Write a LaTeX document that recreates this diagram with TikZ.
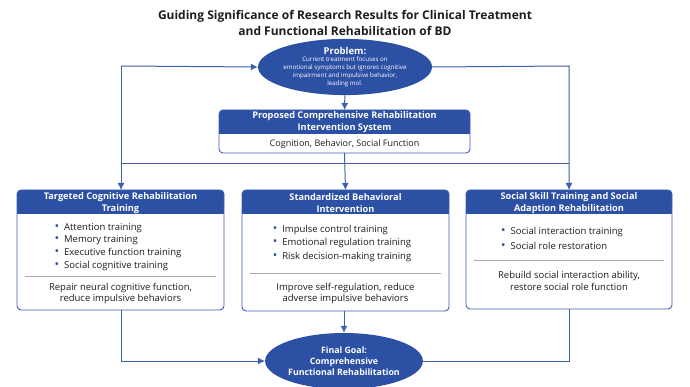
\documentclass[tikz,border=0pt]{standalone}
\usepackage{fontspec}
\setmainfont{Open Sans}
\usetikzlibrary{arrows.meta,calc,shapes.geometric}
\definecolor{bdblue}{RGB}{44,80,164}
\definecolor{lineblue}{RGB}{60,96,178}
\definecolor{txtgray}{RGB}{30,30,30}
\definecolor{divgray}{RGB}{170,170,170}
\newcommand\bul{{\color{bdblue}\fontsize{12}{0}\selectfont\textbullet}\hspace{5pt}}
\newcommand\panel[6]{%
  \fill[bdblue,rounded corners=4pt] (#2,#3) rectangle (#4,#6);
  \fill[bdblue] (#2,{(#3+#6)/2}) rectangle (#4,#6);
  \node[panelbox, minimum width={(#4-#2)*1pt}, minimum height={(#5-#3)*1pt}] (#1) at ({(#2+#4)/2},{(#3+#5)/2}) {};
}
\begin{document}
\begin{tikzpicture}[x=1pt,y=-1pt,
  panelbox/.style={draw=lineblue, line width=0.9pt, rounded corners=4pt, inner sep=0pt, outer sep=0pt},
  hdrtext/.style={text=white, font=\fontsize{9.2}{12}\selectfont\bfseries, align=center, inner sep=0pt},
  bodytext/.style={text=txtgray, font=\fontsize{9.5}{12.7}\selectfont, align=left, inner sep=0pt},
  concl/.style={text=txtgray, font=\fontsize{9.5}{11.5}\selectfont, align=center, inner sep=0pt},
  divider/.style={draw=divgray, line width=0.6pt},
  conn/.style={draw=lineblue, line width=1pt},
  arr/.style={conn, -{Latex[length=7pt,width=7pt]}},
  oval/.style={ellipse, fill=bdblue, text=white, inner sep=0pt, align=center}
]
\useasboundingbox (0,0) rectangle (690,387);
\fill[white] (0,0) rectangle (690,387);

% title
\node[text=txtgray, font=\fontsize{12}{16}\selectfont\bfseries, align=center, inner sep=0pt] (title) at (345,23)
  {Guiding Significance of Research Results for Clinical Treatment\\and Functional Rehabilitation of BD};

% problem
\node[oval, minimum width=162pt, minimum height=48pt, font=\fontsize{6.2}{8}\selectfont] (prob) at (345,67)
  {\fontsize{9.5}{10}\selectfont\bfseries Problem:\\[-1pt]
   \fontsize{6.2}{8}\selectfont\mdseries Current treatment focuses on\\emotional symptoms but ignores cognitive\\impairment and impulsive behavior,\\leading mol.};

% proposed
\panel{prop}{219}{110}{470}{153}{134}
\node[hdrtext] (proph) at (344.5,122) {Proposed Comprehensive Rehabilitation\\Intervention System};
\node[concl, font=\fontsize{9}{11}\selectfont] (propb) at (344.5,144) {Cognition, Behavior, Social Function};

% three panels
\panel{b1}{17}{190}{224}{310}{214}
\panel{b2}{242}{190}{449}{311}{214}
\panel{b3}{466}{190}{672}{309}{214}

\node[hdrtext] (b1h) at (120.5,203) {Targeted Cognitive Rehabilitation\\Training};
\node[hdrtext] (b2h) at (345.5,203) {Standardized Behavioral\\Intervention};
\node[hdrtext] (b3h) at (569,203) {Social Skill Training and Social\\Adaption Rehabilitation};

\node[bodytext] (b1l) at (118,247) {\bul Attention training\\\bul Memory training\\\bul Executive function training\\\bul Social cognitive training};
\node[bodytext] (b2l) at (342,243.5) {\bul Impulse control training\\[0.6pt]\bul Emotional regulation training\\[0.6pt]\bul Risk decision-making training};
\node[bodytext] (b3l) at (562,238.5) {\bul Social interaction training\\[2pt]\bul Social role restoration};

\draw[divider] (25,276) -- (216,276);
\draw[divider] (250,273) -- (441,273);
\draw[divider] (474,260) -- (664,260);

\node[concl] (b1c) at (120.5,293.5) {Repair neural cognitive function,\\reduce impulsive behaviors};
\node[concl] (b2c) at (345.5,293.5) {Improve self-regulation, reduce\\adverse impulsive behaviors};
\node[concl] (b3c) at (569,281) {Rebuild social interaction ability,\\restore social role function};

% final goal
\node[oval, minimum width=154pt, minimum height=56pt, font=\fontsize{8.8}{11}\selectfont\bfseries] (goal) at (344,361)
  {Final Goal:\\Comprehensive\\Functional Rehabilitation};

% connectors
\coordinate (tl) at (121,66);
\coordinate (tr) at (569,66);
\coordinate (ml) at (121,164);
\coordinate (mr) at (569,164);
\draw[arr] (prob) -- (prop);
\draw[arr] (prop.south) -- (b2.north);
\draw[conn] (ml) -- (mr);
\draw[arr] (tl) -- (prob.west);
\draw[arr] (tl) -- (b1.north -| tl);
\draw[arr] (prob.east) -- (tr) -- (b3.north -| tr);
\draw[arr] (b1.south -| tl) |- (goal.west);
\draw[conn] (b3.south -| tr) |- (goal.east);
\draw[arr] (b2.south -| goal) -- (goal.north);
\end{tikzpicture}
\end{document}
